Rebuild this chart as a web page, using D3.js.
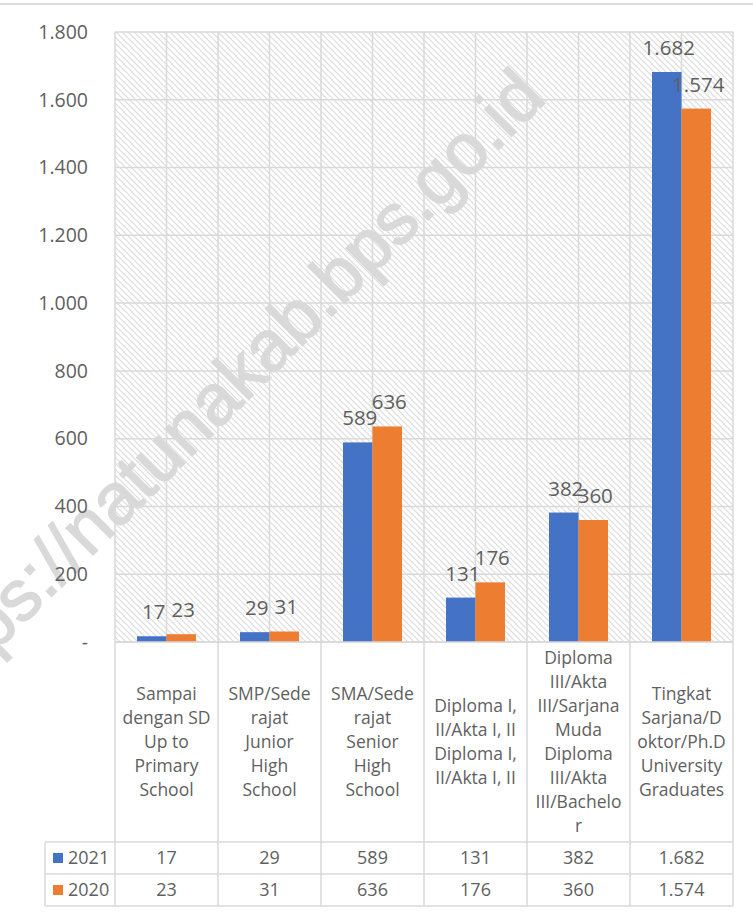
<!DOCTYPE html>
<html>
<head>
<meta charset="utf-8">
<script src="https://cdn.jsdelivr.net/npm/d3@7"></script>
<style>
  body { margin: 0; background: #fff; }
  svg { display: block; }
  text { font-family: "Open Sans", Calibri, Lato, sans-serif; fill: #5f5f5f; }
</style>
</head>
<body>
<script>
// category labels, wrapped the way the source table wraps them
const categoryLines = [
  ['Sampai', 'dengan SD', 'Up to', 'Primary', 'School'],
  ['SMP/Sede', 'rajat', 'Junior', 'High', 'School'],
  ['SMA/Sede', 'rajat', 'Senior', 'High', 'School'],
  ['Diploma I,', 'II/Akta I, II', 'Diploma I,', 'II/Akta I, II'],
  ['Diploma', 'III/Akta', 'III/Sarjana', 'Muda', 'Diploma', 'III/Akta', 'III/Bachelo', 'r'],
  ['Tingkat', 'Sarjana/D', 'oktor/Ph.D', 'University', 'Graduates']
];
const years = ['2021', '2020'];
const values2021 = [17, 29, 589, 131, 382, 1682];
const values2020 = [23, 31, 636, 176, 360, 1574];
const yTicks = [0, 200, 400, 600, 800, 1000, 1200, 1400, 1600, 1800];
const colors = ['#4472C4', '#ED7D31'];
const watermark = 'https://natunakab.bps.go.id';

const width = 753;
const height = 912;
const plot = {left: 115, right: 733, top: 32, bottom: 642};
const rowTop = 842;
const rowH = 32;
const gridColor = '#d9d9d9';

const series = [values2021, values2020];
const idx = categoryLines.map((d, i) => i);

// indonesian number format: 1.800
const fmtLocale = d3.formatLocale({decimal: ',', thousands: '.', grouping: [3], currency: ['Rp', '']});
const fmt = (v) => v === 0 ? '-' : fmtLocale.format(',d')(v);

const x0 = d3.scaleBand().domain(idx).range([plot.left, plot.right]);
const x1 = d3.scaleBand().domain(years).range([22, 81]);
const y = d3.scaleLinear().domain([0, 1800]).range([plot.bottom, plot.top]);

const svg = d3.select('body').append('svg')
  .attr('width', width)
  .attr('height', height);

const defs = svg.append('defs');
const pat = defs.append('pattern')
  .attr('id', 'hatch')
  .attr('patternUnits', 'userSpaceOnUse')
  .attr('width', 6)
  .attr('height', 6);
pat.append('rect').attr('width', 6).attr('height', 6).attr('fill', '#fff');
pat.append('path')
  .attr('d', 'M-1,-1L7,7M-1,5L1,7M5,-1L7,1')
  .attr('stroke', '#dcdcdc')
  .attr('stroke-width', 1.2);

// top rule
svg.append('line')
  .attr('x1', 0).attr('x2', width)
  .attr('y1', 4).attr('y2', 4)
  .attr('stroke', '#dedede')
  .attr('stroke-width', 2);

// plot background
svg.append('rect')
  .attr('x', plot.left)
  .attr('y', plot.top)
  .attr('width', plot.right - plot.left)
  .attr('height', plot.bottom - plot.top)
  .attr('fill', 'url(#hatch)');

// gridlines
svg.append('g')
  .selectAll('line')
  .data(yTicks)
  .join('line')
  .attr('x1', plot.left).attr('x2', plot.right)
  .attr('y1', (d) => y(d)).attr('y2', (d) => y(d))
  .attr('stroke', gridColor)
  .attr('stroke-width', 1.5);

const halfLines = d3.range(categoryLines.length * 2 + 1).map((k) => plot.left + k * x0.bandwidth() / 2);
svg.append('g')
  .selectAll('line')
  .data(halfLines)
  .join('line')
  .attr('x1', (d) => d).attr('x2', (d) => d)
  .attr('y1', plot.top).attr('y2', plot.bottom)
  .attr('stroke', gridColor)
  .attr('stroke-width', 1.5);

// watermark
svg.append('text')
  .attr('transform', 'translate(548,100) rotate(-45)')
  .attr('text-anchor', 'end')
  .style('font-family', '"Liberation Sans", Arial, sans-serif')
  .style('font-size', '72px')
  .style('fill', '#d9d9d9')
  .style('stroke', '#d9d9d9')
  .style('stroke-width', 1.5)
  .text(watermark);

// y axis labels
svg.append('g')
  .selectAll('text')
  .data(yTicks)
  .join('text')
  .attr('x', 88)
  .attr('y', (d) => y(d))
  .attr('dy', '0.35em')
  .attr('text-anchor', 'end')
  .style('font-size', '19.5px')
  .text(fmt);

// bars
const groups = svg.append('g')
  .selectAll('g')
  .data(idx)
  .join('g')
  .attr('transform', (i) => `translate(${x0(i)},0)`);

groups.selectAll('rect')
  .data((i) => years.map((yr, s) => ({yr, s, v: series[s][i]})))
  .join('rect')
  .attr('x', (d) => x1(d.yr))
  .attr('y', (d) => y(d.v))
  .attr('width', x1.bandwidth())
  .attr('height', (d) => y(0) - y(d.v))
  .attr('fill', (d) => colors[d.s]);

groups.selectAll('text')
  .data((i) => years.map((yr, s) => ({yr, s, v: series[s][i]})))
  .join('text')
  .attr('x', (d) => x1(d.yr) + x1.bandwidth() / 2 + 2)
  .attr('y', (d) => y(d.v) - 17)
  .attr('text-anchor', 'middle')
  .style('font-size', '20.5px')
  .text((d) => fmt(d.v));

// table grid
const tbl = svg.append('g').attr('stroke', gridColor).attr('stroke-width', 1.5);
tbl.append('line')
  .attr('x1', plot.left).attr('x2', plot.right)
  .attr('y1', plot.bottom).attr('y2', plot.bottom);
tbl.selectAll('.hrow')
  .data([rowTop, rowTop + rowH, rowTop + rowH * 2])
  .join('line')
  .attr('class', 'hrow')
  .attr('x1', 45).attr('x2', plot.right)
  .attr('y1', (d) => d).attr('y2', (d) => d);
tbl.selectAll('.vcol')
  .data(d3.range(categoryLines.length + 1).map((k) => plot.left + k * x0.bandwidth()))
  .join('line')
  .attr('class', 'vcol')
  .attr('x1', (d) => d).attr('x2', (d) => d)
  .attr('y1', plot.bottom).attr('y2', rowTop + rowH * 2);
tbl.append('line')
  .attr('x1', 45).attr('x2', 45)
  .attr('y1', rowTop).attr('y2', rowTop + rowH * 2);

// category labels
const lineH = 24;
const catMid = (plot.bottom + rowTop) / 2;
svg.append('g')
  .selectAll('text')
  .data(idx)
  .join('text')
  .attr('text-anchor', 'middle')
  .style('font-size', '17.5px')
  .each(function (i) {
    const lines = categoryLines[i];
    const start = catMid - (lines.length - 1) * lineH / 2;
    d3.select(this).selectAll('tspan')
      .data(lines)
      .join('tspan')
      .attr('x', x0(i) + x0.bandwidth() / 2)
      .attr('y', (d, k) => start + k * lineH)
      .attr('dy', '0.35em')
      .text((d) => d);
  });

// legend keys + values in the data table
years.forEach((yr, s) => {
  const cy = rowTop + rowH * s + rowH / 2;
  svg.append('rect')
    .attr('x', 53).attr('y', cy - 5)
    .attr('width', 10).attr('height', 10)
    .attr('fill', colors[s]);
  svg.append('text')
    .attr('x', 68).attr('y', cy)
    .attr('dy', '0.35em')
    .style('font-size', '18px')
    .text(yr);
  svg.append('g')
    .selectAll('text')
    .data(series[s])
    .join('text')
    .attr('x', (v, i) => x0(i) + x0.bandwidth() / 2)
    .attr('y', cy)
    .attr('dy', '0.35em')
    .attr('text-anchor', 'middle')
    .style('font-size', '18px')
    .text(fmt);
});
</script>
</body>
</html>
